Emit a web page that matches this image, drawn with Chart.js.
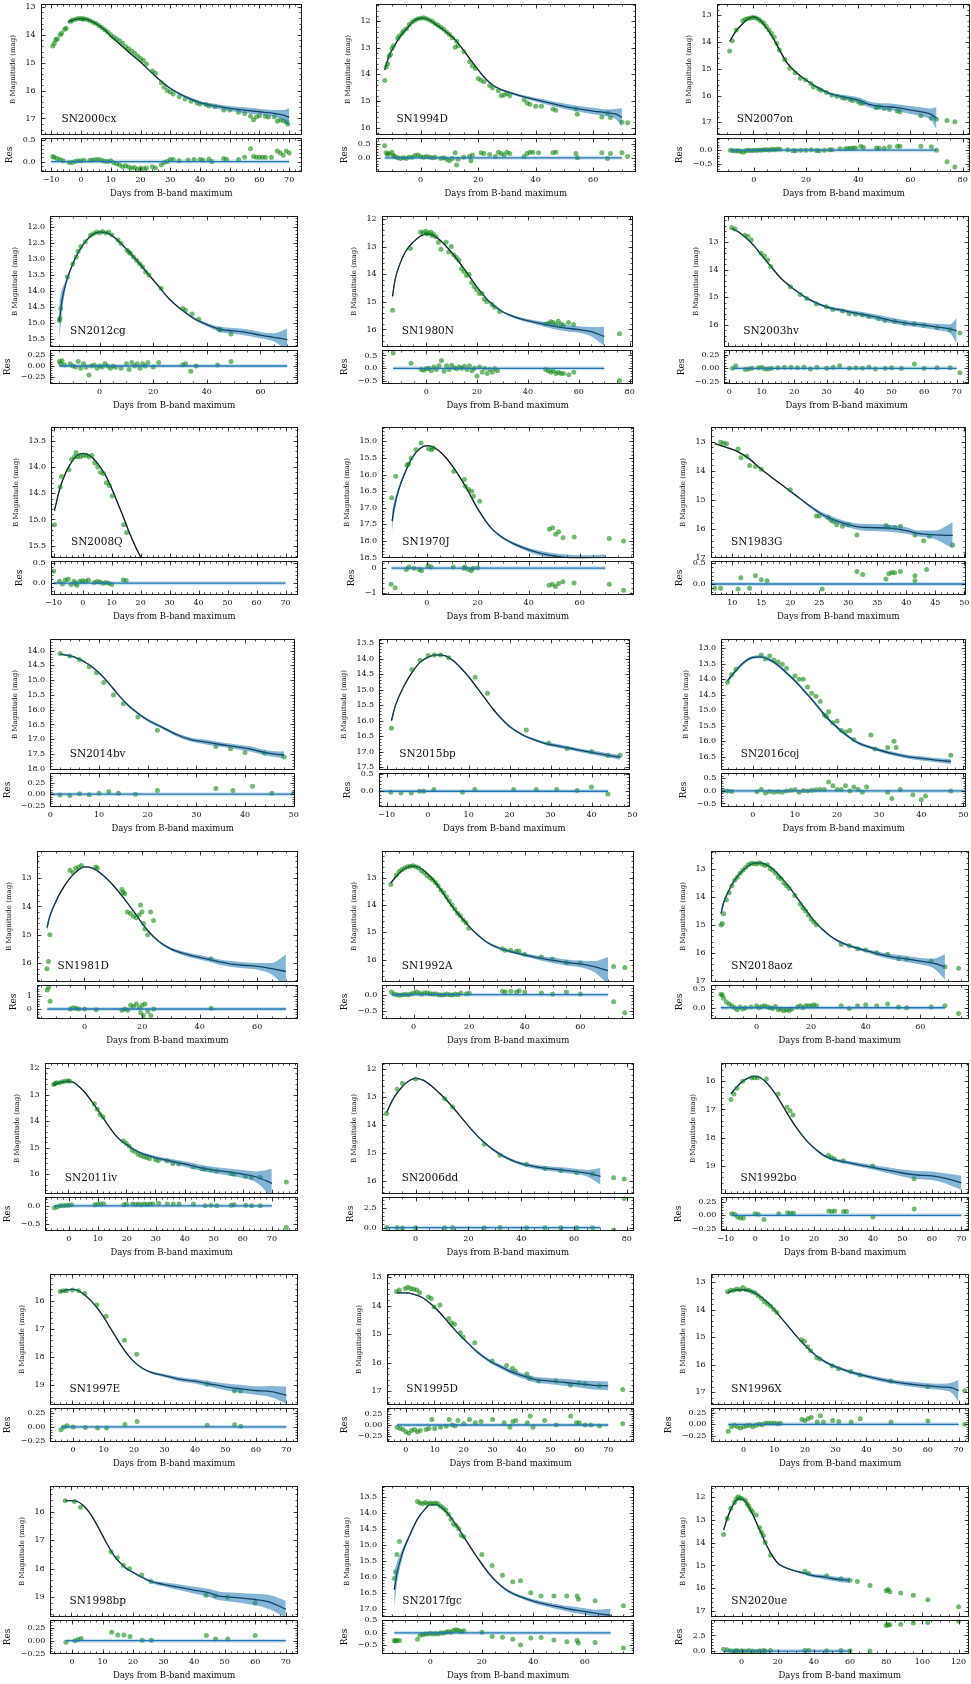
<!DOCTYPE html>
<html>
<head>
<meta charset="utf-8">
<script src="https://cdn.jsdelivr.net/npm/chart.js@4.4.1/dist/chart.umd.min.js"></script>
<style>
body{margin:0;background:#fff;width:971px;height:1684px;position:relative;overflow:hidden}
canvas{position:absolute}
</style>
</head>
<body>
<script>
// ---- data: [day, mag] observations, [day, residual], model curve [day, mag] + half width of band
const obs2000cx = [[-9.5,14.4],[-9,14.3],[-8.5,14.18],[-8,14.15],[-7,14.0],[-6.5,13.95],[-5.5,13.8],[-5,13.77],[-3.5,13.52],[-3,13.48],[-2,13.45],[-1,13.42],[0,13.42],[0.5,13.44],[1,13.43],[2,13.45],[3,13.5],[4,13.55],[5,13.6],[6,13.67],[7,13.74],[8,13.82],[9,13.9],[10,14.0],[11,14.08],[12,14.15],[13,14.22],[14,14.3],[15,14.42],[16,14.5],[17,14.58],[18,14.66],[19,14.76],[20,14.85],[21,14.92],[22,15.05],[24,15.3],[25,15.38],[27,15.72],[28,15.88],[29,16.0],[30,16.05],[31,16.12],[33,16.22],[35,16.3],[37,16.38],[39,16.45],[40,16.48],[42,16.5],[43,16.55],[45,16.58],[48,16.7],[50,16.7],[53,16.78],[55,16.82],[57,16.92],[58,17.05],[59,16.95],[60,16.9],[62,16.92],[63,16.95],[65,16.95],[66,17.1],[67,17.05],[68,17.08],[69,17.12],[69.5,17.2]];
const res2000cx = [[-9.5,0.12],[-9,0.1],[-8,0.07],[-7,0.05],[-6,0.02],[-4,-0.02],[-3,-0.02],[-2,0],[-1,0.02],[0,0.02],[1,0.03],[3,0.03],[4,0.04],[5,0.05],[6,0.05],[7,0.03],[8,0.01],[9,0],[10,0.02],[11,-0.03],[12,-0.05],[13,-0.08],[14,-0.12],[15,-0.1],[16,-0.13],[17,-0.15],[18,-0.14],[19,-0.18],[20,-0.15],[21,-0.17],[22,-0.15],[24,-0.12],[25,-0.15],[27,-0.08],[28,-0.02],[29,0],[30,0.05],[31,0.05],[33,0.02],[36,0.04],[38,0.05],[40,0.05],[41,0.04],[43,0.06],[44,0],[48,0.07],[49,0.05],[53,0.05],[55,0.1],[57,0.3],[58,0.12],[59,0.1],[60,0.1],[61,0.1],[62,0.1],[64,0.1],[66,0.25],[67,0.2],[68,0.15],[69,0.25],[70,0.2]];
const mod2000cx = [[-4.4,13.55],[-2,13.45],[0,13.42],[2,13.45],[5,13.6],[8,13.83],[10,14.05],[13,14.33],[16,14.62],[20,14.98],[25,15.48],[30,15.92],[35,16.22],[40,16.43],[45,16.55],[50,16.64],[55,16.7],[60,16.76],[65,16.82],[68,16.88],[70,16.96]];
const bw2000cx = [.01,.01,.01,.01,.01,.01,.01,.01,.01,.02,.02,.03,.05,.06,.08,.09,.1,.11,.12,.18,.33];
const span2000cx = [-10, 70];
const xt2000cx = ['−10','0','10','20','30','40','50','60','70'];
const yt2000cx = ['13','14','15','16','17'];
const rt2000cx = ['0.0','0.5'];

const obs1994D = [[-12.5,14.23],[-12,13.72],[-11.5,13.6],[-11,13.32],[-10.5,13.25],[-10,13.02],[-9.5,12.92],[-8,12.65],[-7.5,12.55],[-6.5,12.45],[-6,12.36],[-5,12.28],[-4,12.12],[-3,12.03],[-2,11.96],[-1,11.9],[0,11.88],[1,11.87],[2,11.9],[3,11.95],[4,12.0],[5,12.08],[6,12.15],[7,12.22],[8,12.3],[9,12.4],[10,12.5],[11,12.62],[12,12.98],[12.5,12.75],[13,12.92],[15,13.15],[17,13.52],[18,13.68],[19,13.78],[20,14.15],[21,14.22],[22,14.28],[24,14.42],[25,14.5],[27,14.62],[28,14.8],[29,14.78],[30,14.72],[31,14.8],[36,14.95],[37,15.08],[38,15.12],[40,15.2],[42,15.2],[46,15.3],[47,15.35],[54,15.3],[54.5,15.5],[63,15.6],[65,15.45],[66,15.62],[70,15.8],[72,15.82]];
const res1994D = [[-12.5,0.42],[-12,0.18],[-11.5,0.12],[-11,0.15],[-10,0.2],[-9.5,0.08],[-9,0.05],[-8,0],[-7,-0.02],[-6,0],[-5,-0.02],[-4,0.03],[-3,0.02],[-2,0.08],[-1,0.1],[0,0.05],[1,0.02],[2,0.05],[3,0.03],[4,0],[5,0.02],[7,-0.02],[8,0],[9,-0.05],[10,-0.1],[11,-0.02],[12,0.18],[12.5,-0.25],[13,-0.05],[15,0.02],[17,0.05],[17.5,-0.1],[18,0.1],[21,0.18],[22,0.15],[24,0.12],[26,0.05],[27,0.2],[28,0.15],[29,0.1],[30,0.2],[31,0.15],[36,0.05],[37,0.15],[38,0.2],[39,0.2],[41,0.18],[46,0.18],[47,0.2],[54,0.15],[54.5,0],[63,0.18],[65,-0.02],[66,0.15],[70,0.18],[72,0.05]];
const mod1994D = [[-12.5,13.83],[-11,13.3],[-9,12.9],[-7,12.55],[-5,12.3],[-3,12.05],[-1,11.9],[1,11.88],[3,11.95],[5,12.1],[7,12.25],[10,12.5],[12,12.7],[15,13.1],[18,13.55],[20,13.83],[22,14.1],[25,14.4],[28,14.57],[30,14.65],[35,14.82],[40,14.95],[45,15.08],[50,15.2],[55,15.3],[60,15.38],[65,15.45],[68,15.5],[70,15.62]];
const bw1994D = [.05,.03,.02,.02,.01,.01,.01,.01,.01,.01,.01,.01,.01,.01,.01,.01,.02,.02,.03,.04,.05,.07,.09,.1,.11,.12,.13,.2,.35];
const xt1994D = ['0','20','40','60'];
const yt1994D = ['12','13','14','15','16'];
const rt1994D = ['0.0','0.5'];

const obs2007on = [[-9,14.33],[-8,13.95],[-6.5,13.55],[-4,13.2],[-3,13.15],[-2,13.12],[-1,13.1],[0,13.08],[1,13.1],[2,13.15],[3,13.22],[4,13.3],[5,13.42],[6,13.55],[7,13.68],[8,13.82],[9,14.05],[10,14.3],[12,14.65],[14,14.98],[16,15.15],[18,15.35],[20,15.42],[22,15.55],[23,15.68],[25,15.75],[26,15.8],[28,15.88],[30,15.98],[32,16.02],[34,16.08],[35,16.1],[37,16.15],[38,16.18],[40,16.22],[41,16.3],[42,16.28],[47,16.45],[48,16.42],[50,16.48],[52,16.52],[55,16.58],[56,16.6],[64,16.75],[68,16.85],[70,16.88],[74,16.93],[77,16.98]];
const res2007on = [[-9,0],[-8,-0.02],[-7,-0.03],[-6,-0.02],[-5,-0.05],[-4,-0.08],[-3,-0.02],[-2,0],[-1,-0.02],[0,0],[1,-0.01],[2,0.01],[3,0],[4,0.02],[5,0.02],[6,0.01],[7,0.03],[8,0.02],[9,0.04],[10,0.03],[13,0.02],[15,-0.02],[16,-0.02],[18,0],[20,0],[22,0.02],[24,-0.01],[25,-0.02],[27,0],[29,0.02],[30,0.02],[33,0.05],[35,0.05],[36,0.06],[37,0.07],[38,0.08],[39,0.08],[41,0.15],[42,0.1],[47,0.08],[48,0.07],[50,0.07],[52,0.13],[55,0.15],[56,0.15],[64,0.15],[68,0.13],[70,0],[74,-0.43],[77,-0.63]];
const mod2007on = [[-9,13.98],[-7,13.65],[-5,13.41],[-2,13.14],[0,13.06],[3,13.22],[6,13.6],[8,13.92],[10,14.29],[13,14.79],[16,15.1],[20,15.41],[25,15.72],[30,15.95],[35,16.06],[40,16.16],[45,16.35],[50,16.41],[55,16.45],[60,16.54],[65,16.62],[68,16.7],[70,16.85]];
const bw2007on = [.02,.01,.01,.01,.01,.01,.01,.01,.01,.01,.01,.02,.03,.05,.08,.1,.11,.12,.13,.15,.17,.22,.42];
const xt2007on = ['0','20','40','60','80'];
const yt2007on = ['13','14','15','16','17'];
const rt2007on = ['−0.5','0.0'];

const obs2012cg = [[-15,14.92],[-14.8,14.85],[-14.5,14.55],[-12,13.55],[-10,13.15],[-8.7,12.93],[-8,12.75],[-7,12.6],[-5.3,12.45],[-3.4,12.25],[-2.3,12.2],[-1.1,12.15],[0,12.17],[1.1,12.13],[2.3,12.18],[3.4,12.15],[4.6,12.24],[6.9,12.4],[8,12.5],[10.3,12.72],[11,12.78],[11.5,12.82],[12.6,12.93],[13.8,13.03],[15,13.14],[16,13.24],[17.2,13.4],[18.4,13.5],[23,13.92],[31,14.55],[32,14.6],[34.5,14.72],[37,14.88],[44.5,15.2],[45,15.22],[49,15.35]];
const res2012cg = [[-15,0.1],[-14.5,0.05],[-14,0.12],[-13,0.02],[-11,0.05],[-10,0],[-9,-0.02],[-8,0.1],[-7,-0.05],[-6,0.05],[-5,-0.03],[-4,-0.2],[-3,0],[-2,0.02],[-1,-0.05],[0,0],[1,-0.02],[2,0.05],[3,0],[4,-0.05],[5,0],[6,-0.03],[8,-0.05],[10,0.05],[11,-0.08],[12,0.08],[13,0],[14,0.05],[15,-0.05],[16,0.05],[17,0],[18,0.08],[20,-0.02],[22,0.08],[31,0.03],[32,0.05],[34,-0.12],[36,0],[44,0.02],[49,0.1]];
const mod2012cg = [[-15,14.95],[-14,14.3],[-13,13.9],[-12,13.6],[-10,13.15],[-8,12.8],[-5,12.42],[-2,12.2],[0,12.15],[3,12.18],[6,12.35],[10,12.68],[14,13.05],[18,13.45],[22,13.85],[26,14.25],[30,14.55],[35,14.85],[40,15.05],[45,15.2],[50,15.25],[55,15.3],[60,15.38],[65,15.45],[70,15.52]];
const bw2012cg = [.65,.35,.15,.08,.04,.03,.02,.02,.02,.02,.02,.02,.02,.02,.02,.02,.02,.03,.05,.08,.09,.1,.1,.13,.35];
const xt2012cg = ['0','20','40','60'];
const yt2012cg = ['12.0','12.5','13.0','13.5','14.0','14.5','15.0','15.5'];
const rt2012cg = ['−0.25','0.00','0.25'];

const obs1980N = [[-13,15.3],[-6,13.07],[-2,12.48],[-1,12.5],[0,12.45],[0.5,12.55],[1,12.5],[2,12.48],[2.5,12.6],[3,12.55],[4,12.65],[5,12.85],[6,13.1],[8,12.85],[9,13.2],[10,13.0],[11,13.3],[12,13.4],[13,13.5],[14,13.8],[15,13.9],[16,14.05],[17,14.0],[18,14.3],[19,14.45],[20,14.55],[21,14.7],[22,14.7],[23,14.9],[24,15.0],[26,15.1],[27,15.2],[29,15.35],[47,15.8],[48,15.78],[49,15.72],[50,15.75],[51,15.82],[52,15.7],[53,15.8],[54,15.85],[56,15.75],[58,15.82],[76,16.15]];
const res1980N = [[-13,0.6],[-6,0.2],[-2,-0.05],[-1,-0.08],[0,-0.02],[1,0],[2,-0.1],[3,0.05],[4,-0.05],[5,0.1],[6,0.3],[7,-0.12],[8,0.1],[9,-0.05],[10,0.12],[11,0.02],[12,-0.02],[13,0.05],[14,0],[15,0.08],[16,-0.05],[17,0.1],[18,-0.1],[19,0],[20,-0.3],[21,0.05],[22,-0.15],[23,0],[24,-0.2],[25,-0.05],[26,-0.15],[27,-0.02],[28,-0.1],[47,-0.05],[48,-0.1],[49,-0.15],[50,-0.1],[51,-0.2],[52,-0.15],[53,-0.2],[54,-0.2],[56,-0.25],[58,-0.15],[76,-0.48]];
const mod1980N = [[-13,14.8],[-12,14.2],[-10,13.6],[-8,13.2],[-5,12.85],[-2,12.62],[0,12.55],[3,12.6],[6,12.8],[10,13.2],[15,13.8],[20,14.45],[25,15.0],[30,15.35],[35,15.55],[40,15.68],[45,15.78],[50,15.88],[55,15.95],[60,16.0],[65,16.08],[70,16.25]];
const bw1980N = [.15,.08,.04,.02,.01,.01,.01,.01,.01,.01,.01,.02,.03,.04,.05,.06,.08,.1,.11,.12,.17,.35];
const xt1980N = ['0','20','40','60','80'];
const yt1980N = ['12','13','14','15','16'];
const rt1980N = ['−0.5','0.0','0.5'];

const obs2003hv = [[1,12.47],[2,12.52],[5,12.75],[6,12.78],[7,12.92],[10,13.4],[11,13.5],[12,13.65],[13,13.88],[19,14.62],[22,14.9],[24,15.05],[27,15.25],[30,15.35],[32,15.45],[35,15.5],[37,15.6],[39,15.62],[41,15.65],[43,15.7],[46,15.78],[48,15.85],[51,15.88],[54,15.95],[57,15.98],[60,16.02],[64,16.1],[68,16.18],[71,16.3]];
const res2003hv = [[1,0],[2,0.05],[5,-0.02],[6,-0.01],[7,0],[9,0.01],[10,0.02],[11,-0.01],[12,-0.01],[13,0],[15,0.01],[17,0.02],[19,0.02],[21,0.01],[23,0.02],[25,-0.01],[27,0.02],[30,0],[32,0.02],[34,0.05],[37,0],[39,0.01],[41,0],[43,0.02],[45,-0.01],[48,0],[50,0.01],[53,0],[57,0.08],[60,0],[64,0.01],[68,0.01],[71,-0.08]];
const mod2003hv = [[1,12.5],[3,12.62],[5,12.8],[8,13.15],[10,13.45],[13,13.88],[16,14.3],[20,14.7],[25,15.1],[30,15.35],[35,15.48],[40,15.6],[45,15.72],[50,15.85],[55,15.95],[60,16.02],[65,16.1],[68,16.15],[70,16.22]];
const bw2003hv = [.02,.02,.02,.02,.02,.02,.02,.03,.04,.05,.06,.08,.1,.1,.1,.1,.12,.16,.45];
const xt2003hv = ['0','10','20','30','40','50','60','70'];
const yt2003hv = ['13','14','15','16'];
const rt2003hv = ['−0.25','0.00','0.25'];

const obs2008Q = [[-10,15.1],[-8,14.38],[-7.5,14.18],[-5,14.05],[-4,13.85],[-3,13.8],[-2.5,13.72],[-2,13.8],[-1,13.8],[0,13.78],[1,13.78],[2,13.8],[3,13.78],[4,13.92],[5,14.0],[6,14.1],[7,14.12],[8,14.3],[9,14.35],[10,14.55],[14,15.1],[15,15.25]];
const res2008Q = [[-10,0.3],[-8,0.05],[-7,-0.02],[-6,0.08],[-5,0.1],[-4,-0.03],[-3,0.05],[-2.5,0],[-2,-0.05],[-1,0.05],[0,0.06],[1,0.05],[2,0.08],[4,0.02],[5,0.04],[6,0.03],[7,0],[8,0.02],[9,0],[10,-0.03],[14,0.08],[15,0.07]];
const mod2008Q = [[-10,14.83],[-8,14.39],[-6,14.1],[-4,13.9],[-2,13.77],[0,13.74],[2,13.77],[4,13.87],[6,14.01],[8,14.19],[10,14.43],[12,14.7],[14,14.97],[16,15.26],[18,15.51],[20,15.74],[22,16.0]];
const bw2008Q = [.03,.02,.01,.01,.01,.01,.01,.01,.01,.01,.01,.01,.01,.01,.01,.01,.02];
const span2008Q = [-10, 70];
const xt2008Q = ['−10','0','10','20','30','40','50','60','70'];
const yt2008Q = ['13.5','14.0','14.5','15.0','15.5'];
const rt2008Q = ['0.0','0.5'];

const obs1970J = [[-14,16.7],[-12.4,16.05],[-8,15.72],[-7.3,15.68],[-6.3,15.5],[-4.4,15.25],[-2.4,15.05],[0.5,15.22],[1.7,15.25],[2.4,15.2],[10.4,15.9],[14.6,16.15],[15,16.35],[16.3,16.45],[17.5,16.5],[18.2,16.65],[20.6,16.8],[48,17.65],[49.3,17.6],[50.5,17.8],[51.7,17.72],[53.4,17.9],[57.8,17.88],[71.6,17.93],[77.2,18.0]];
const res1970J = [[-14,-0.65],[-12.4,-0.8],[-8,-0.05],[-7,0.05],[-5,0],[-3,-0.05],[-2,-0.1],[0.5,0.1],[1.7,0.05],[10.4,0.05],[14.6,0],[15,0.05],[16.3,-0.05],[17.5,-0.1],[18.2,0],[20,0.02],[48,-0.7],[49.3,-0.65],[50.5,-0.75],[51.7,-0.62],[53.4,-0.55],[57.8,-0.6],[71.6,-0.65],[77.2,-0.9]];
const mod1970J = [[-13.8,17.4],[-13,17.0],[-11,16.4],[-8.5,15.9],[-6,15.5],[-3,15.22],[0,15.13],[3,15.2],[6,15.38],[10,15.75],[15,16.35],[20,17.05],[25,17.6],[30,17.92],[35,18.12],[40,18.27],[45,18.38],[50,18.45],[55,18.5],[60,18.53],[65,18.55],[70,18.56]];
const bw1970J = [.3,.2,.08,.04,.02,.01,.01,.01,.01,.01,.01,.02,.03,.04,.05,.06,.07,.08,.09,.1,.12,.15];
const xt1970J = ['0','20','40','60'];
const yt1970J = ['15.0','15.5','16.0','16.5','17.0','17.5','18.0','18.5'];
const rt1970J = ['−1','0'];

const obs1983G = [[8,13.02],[8.5,13.05],[9,13.07],[11,13.25],[11.5,13.55],[12.5,13.5],[13,13.82],[14,13.85],[15,13.95],[20,14.65],[24.5,15.55],[25,15.55],[26.5,15.6],[27,15.7],[27.5,15.75],[28,15.85],[29,15.9],[30,15.85],[31.5,16.2],[36.5,15.88],[37,15.95],[38,15.95],[39,15.9],[41.5,16.2],[43,16.4],[44,16.25],[48,16.55]];
const res1983G = [[7,-0.1],[8,-0.1],[11,-0.12],[11.5,0.15],[13,-0.1],[14,0.2],[15,0.1],[16,0.08],[25.5,-0.12],[31.5,0.3],[32.5,0.23],[36.5,0.12],[37,0.25],[37.5,0.28],[38,0.27],[39,0.3],[41.5,0.08],[41.5,0.2],[43.5,0.35]];
const mod1983G = [[7,13.07],[9,13.2],[11,13.35],[13,13.6],[15,13.95],[18,14.4],[20,14.7],[22,15.0],[24,15.3],[26,15.55],[28,15.72],[30,15.85],[32,15.93],[34,15.95],[37,15.97],[40,16.05],[42,16.15],[45,16.2],[48,16.22]];
const bw1983G = [.01,.01,.01,.01,.01,.01,.02,.03,.05,.08,.09,.1,.11,.12,.12,.11,.1,.15,.45];
const span1983G = [6.3, 50.3];
const xt1983G = ['10','15','20','25','30','35','40','45','50'];
const yt1983G = ['13','14','15','16','17'];
const rt1983G = ['0.0','0.5'];

const obs2014bv = [[2,14.1],[4,14.18],[6,14.3],[8,14.55],[9.5,14.75],[11,15.08],[13,15.5],[15,15.8],[18,16.25],[22,16.7],[34,17.25],[37,17.32],[40,17.45],[44,17.47],[48,17.6]];
const res2014bv = [[2,-0.02],[4,-0.03],[6,0.01],[8,-0.01],[10,0.02],[12,0.05],[14,0.02],[17.5,0],[22,0.08],[34,0.12],[37.5,0.08],[41.5,0.17],[45.5,0.02],[50,0.03]];
const mod2014bv = [[2,14.12],[5,14.22],[8,14.48],[10,14.75],[12,15.1],[14,15.5],[16,15.85],[18,16.12],[20,16.35],[23,16.6],[26,16.85],[29,17.02],[32,17.1],[35,17.18],[38,17.25],[41,17.33],[44,17.45],[47,17.52],[48,17.53]];
const bw2014bv = [.03,.03,.03,.03,.03,.03,.04,.04,.05,.05,.06,.07,.08,.08,.08,.09,.09,.1,.12];
const span2014bv = [0, 50.3];
const xt2014bv = ['0','10','20','30','40','50'];
const yt2014bv = ['14.0','14.5','15.0','15.5','16.0','16.5','17.0','17.5','18.0'];
const rt2014bv = ['−0.25','0.00','0.25'];

const obs2015bp = [[-9,16.25],[-4,14.35],[-2,14.05],[0,13.9],[1.5,13.88],[3,13.88],[5,13.97],[11.5,14.6],[14.5,15.12],[24,16.3],[29.5,16.72],[34,16.9],[40,17.0],[44,17.12],[47,17.12]];
const res2015bp = [[-9,-0.03],[-6.5,-0.05],[-4,-0.05],[-2,0],[-1,0],[1.5,0.05],[8.5,-0.03],[11.5,0.05],[21,0.05],[26.5,0.05],[31.5,0.05],[36.5,0.02],[40,0.12],[44,-0.08]];
const mod2015bp = [[-9,16.0],[-8,15.5],[-6,14.9],[-4,14.45],[-2,14.12],[0,13.95],[2,13.88],[4,13.9],[6,14.05],[8,14.3],[10,14.6],[12,14.95],[14,15.3],[16,15.65],[18,15.95],[20,16.2],[23,16.45],[26,16.62],[29,16.75],[32,16.82],[35,16.9],[38,16.98],[41,17.05],[44,17.12],[47,17.18]];
const bw2015bp = [.08,.05,.03,.02,.02,.02,.02,.02,.02,.02,.02,.02,.02,.02,.03,.03,.03,.04,.05,.06,.06,.06,.07,.07,.08];
const span2015bp = [-12, 44];
const xt2015bp = ['−10','0','10','20','30','40','50'];
const yt2015bp = ['13.5','14.0','14.5','15.0','15.5','16.0','16.5','17.0','17.5'];
const rt2015bp = ['0.0','0.5'];

const obs2016coj = [[-6,14.1],[-5,13.85],[-4,13.68],[2,13.22],[3,13.35],[4,13.25],[5,13.38],[6,13.45],[7,13.52],[8,13.65],[10,13.9],[11,14.0],[12,14.0],[13,14.25],[14,14.45],[15,14.55],[16,14.72],[17,15.15],[17.5,15.2],[18,15.05],[19,15.4],[20,15.35],[21,15.65],[22,15.7],[23,15.65],[24,15.95],[28,15.8],[29,16.25],[32,16.2],[33.5,16.0],[34,16.2],[47,16.45]];
const res2016coj = [[-7,0.02],[-6,0],[-5,-0.02],[1,-0.03],[2,0.05],[3,-0.08],[4,-0.02],[5,-0.05],[6,-0.03],[7,-0.05],[8,0],[9,0.03],[10,0.05],[11,-0.05],[12,0.02],[13,0],[14,0.03],[15,0.04],[16,0.05],[17,0.05],[18,0.35],[19,0.2],[20,0.05],[21,0.05],[22,0.2],[23,0],[24,0.15],[25,0.05],[26,-0.05],[27,0.15],[32,-0.05],[33,-0.3],[35,0.05],[38,-0.15],[40,-0.35],[41,-0.2],[47,0]];
const mod2016coj = [[-6,14.05],[-4,13.72],[-2,13.45],[0,13.3],[2,13.28],[4,13.38],[6,13.55],[8,13.8],[10,14.05],[12,14.35],[14,14.65],[16,14.98],[18,15.3],[20,15.55],[22,15.78],[25,16.05],[28,16.2],[31,16.32],[34,16.42],[37,16.5],[40,16.55],[43,16.6],[47,16.65]];
const bw2016coj = [.06,.05,.05,.05,.05,.05,.05,.05,.05,.05,.05,.05,.05,.05,.05,.05,.05,.06,.06,.06,.07,.07,.08];
const span2016coj = [-7.5, 50.6];
const xt2016coj = ['0','10','20','30','40','50'];
const yt2016coj = ['13.0','13.5','14.0','14.5','15.0','15.5','16.0','16.5'];
const rt2016coj = ['−0.5','0.0','0.5'];

const obs1981D = [[-13,16.2],[-12.5,15.95],[-12,15.0],[-5,12.72],[-4,12.8],[-3,12.65],[-2,12.6],[-1,12.55],[4,12.6],[4.5,12.65],[13,13.4],[13.5,13.5],[14,13.55],[15,14.2],[16,14.25],[17,14.35],[18,14.4],[19,14.3],[19.5,13.95],[20,14.2],[20.5,14.6],[21,14.8],[22,15.0],[23,14.2],[24,14.5],[44,15.85]];
const res1981D = [[-13,1.5],[-12.5,1.7],[-12,0.6],[-5,0],[-4,0.1],[-3,0.05],[-2,0],[0,0],[4,-0.05],[13,-0.1],[14,0],[15,-0.1],[16,0.3],[17,0.2],[18,0.4],[19,0.1],[19.5,-0.3],[20,0.3],[20.5,-0.5],[21,0.4],[22,-0.2],[23,-0.5],[24,0],[44,0.05]];
const mod1981D = [[-13,14.75],[-12,14.35],[-10,13.85],[-8,13.45],[-5,13.0],[-2,12.7],[0,12.6],[3,12.65],[6,12.85],[10,13.25],[14,13.75],[18,14.3],[22,14.85],[26,15.25],[30,15.5],[35,15.68],[40,15.8],[45,15.92],[50,16.02],[55,16.08],[60,16.12],[65,16.2],[70,16.3]];
const bw1981D = [.15,.08,.04,.02,.02,.02,.02,.02,.02,.02,.02,.02,.03,.04,.05,.07,.08,.09,.1,.11,.12,.2,.6];
const xt1981D = ['0','20','40','60'];
const yt1981D = ['13','14','15','16'];
const rt1981D = ['0','1'];

const obs1992A = [[-8,13.25],[-6,12.9],[-5,12.78],[-4,12.7],[-3,12.65],[-2,12.6],[-1,12.58],[0,12.57],[1,12.6],[2,12.65],[3,12.75],[4,12.82],[5,12.92],[6,13.0],[7,13.08],[8,13.18],[9,13.3],[10,13.45],[11,13.55],[12,13.7],[13,13.85],[14,14.0],[15,14.15],[16,14.3],[17,14.4],[18,14.55],[19,14.65],[20,14.85],[32,15.6],[33,15.65],[35,15.65],[37,15.7],[38,15.68],[40,15.8],[46,15.9],[50,15.97],[55,16.1],[60,16.12],[72,16.25],[76,16.28]];
const res1992A = [[-8,0.08],[-7,0.02],[-6,0],[-5,-0.02],[-4,0],[-3,0.01],[-2,0],[-1,0.02],[0,0.05],[1,0.08],[2,0.05],[3,0.02],[4,0.06],[5,0.05],[6,0.03],[7,0.02],[8,0.03],[9,0],[10,-0.01],[11,0],[12,0.02],[13,0],[14,-0.01],[15,0.02],[16,0],[17,0.05],[19,0.03],[20,0.05],[32,0.1],[33,0.08],[35,0.1],[37,0.08],[38,0.12],[40,0.08],[46,0.05],[50,0.02],[55,0.08],[60,0.02],[72,-0.22],[76,-0.55]];
const mod1992A = [[-8,13.2],[-6,12.95],[-4,12.75],[-2,12.62],[0,12.58],[2,12.62],[4,12.75],[7,13.05],[10,13.45],[13,13.9],[16,14.3],[19,14.65],[22,14.98],[25,15.25],[28,15.45],[31,15.58],[35,15.7],[40,15.82],[45,15.93],[50,16.02],[55,16.1],[60,16.15],[65,16.25],[70,16.4]];
const bw1992A = [.02,.01,.01,.01,.01,.01,.01,.01,.01,.01,.01,.01,.02,.03,.04,.05,.05,.06,.08,.1,.11,.12,.2,.5];
const xt1992A = ['0','20','40','60'];
const yt1992A = ['13','14','15','16'];
const rt1992A = ['−0.5','0.0'];

const obs2018aoz = [[-13,15.0],[-12.5,14.95],[-12,14.6],[-11,14.1],[-10,13.85],[-9,13.6],[-8,13.4],[-7,13.3],[-6,13.15],[-5,13.05],[-4,12.95],[-3,12.85],[-2,12.8],[-1,12.8],[0,12.82],[1,12.78],[2,12.82],[3,12.88],[4,12.85],[5,12.98],[6,13.05],[7,13.15],[8,13.3],[9,13.35],[10,13.5],[11,13.6],[12,13.7],[14,13.95],[16,14.25],[17,14.4],[18,14.5],[19,14.65],[20,14.8],[21,14.9],[22,15.0],[31,15.7],[34,15.75],[37,15.85],[40,15.9],[44,16.0],[48,16.05],[52,16.2],[55,16.22],[64,16.3],[69,16.5],[74,16.55]];
const res2018aoz = [[-13,0.35],[-12.5,0.33],[-12,0.25],[-11,0.15],[-10,0.1],[-9,0.05],[-8,0],[-7,-0.05],[-6,0.02],[-5,-0.03],[-4,0],[-2,0.02],[0,0.05],[1,0],[2,0.03],[3,0.05],[4,0.02],[5,0],[6,-0.02],[7,0.03],[8,-0.05],[9,-0.03],[10,-0.08],[11,-0.05],[12,-0.07],[13,-0.03],[15,0.02],[16,0.05],[17,0],[18,0.05],[19,0.05],[20,0.05],[21,0.08],[22,0.05],[31,0.05],[34,-0.02],[37,0.05],[40,0.08],[44,0.05],[48,0.1],[52,0.02],[55,0],[64,0.02],[69,0.05],[74,-0.15]];
const mod2018aoz = [[-13,14.6],[-12,14.2],[-10,13.75],[-8,13.4],[-5,13.05],[-2,12.83],[0,12.78],[3,12.82],[6,13.0],[9,13.3],[12,13.65],[15,14.05],[18,14.45],[21,14.85],[24,15.15],[27,15.4],[30,15.58],[35,15.78],[40,15.92],[45,16.05],[50,16.15],[55,16.22],[60,16.3],[65,16.38],[69,16.5]];
const bw2018aoz = [.15,.08,.04,.03,.02,.02,.02,.02,.02,.02,.02,.02,.02,.02,.03,.03,.04,.05,.06,.08,.1,.11,.12,.18,.45];
const xt2018aoz = ['0','20','40','60'];
const yt2018aoz = ['13','14','15','16','17'];
const rt2018aoz = ['0.0','0.5'];

const obs2011iv = [[-5,12.62],[-4.5,12.58],[-4,12.55],[-3,12.55],[-2,12.52],[-1,12.5],[0,12.48],[0.5,12.5],[9,13.35],[10,13.55],[11,13.75],[12,13.85],[19,14.75],[20,14.85],[21,14.95],[22,15.1],[23,15.15],[24,15.25],[25,15.3],[26,15.35],[27,15.38],[28,15.42],[30,15.45],[31,15.5],[34,15.5],[36,15.6],[38,15.62],[43,15.72],[46,15.8],[47,15.82],[49,15.85],[51,15.88],[56,15.98],[57,16.0],[61,16.08],[63,16.12],[66,16.12],[75,16.3]];
const res2011iv = [[-5,-0.05],[-4,-0.03],[-3,0],[-2,0],[-1,0.02],[0,0.02],[1,0.03],[9,0.03],[10,0.05],[11,0.05],[12,0.06],[19,0.03],[20,0.05],[22,0.05],[23,0.04],[24,0.05],[25,0.03],[26,0.05],[27,0.04],[28,0.05],[29,0.05],[31,0.07],[34,0.05],[36,0.05],[38,0.05],[43,0.05],[47,0],[49,0.02],[51,0],[56,0.02],[57,0.03],[61,0.02],[63,0],[66,0],[75,-0.6]];
const mod2011iv = [[-5,12.65],[-3,12.55],[0,12.5],[2,12.55],[4,12.72],[6,12.95],[8,13.25],[10,13.55],[12,13.88],[14,14.2],[16,14.5],[18,14.72],[20,14.88],[23,15.1],[26,15.25],[30,15.38],[35,15.5],[40,15.62],[45,15.75],[50,15.85],[55,15.92],[60,16.0],[65,16.12],[70,16.35]];
const bw2011iv = [.02,.02,.02,.02,.02,.02,.02,.02,.02,.02,.02,.02,.03,.04,.05,.06,.08,.1,.11,.12,.13,.15,.22,.55];
const xt2011iv = ['0','10','20','30','40','50','60','70'];
const yt2011iv = ['12','13','14','15','16'];
const rt2011iv = ['−0.5','0.0'];

const obs2006dd = [[-11,13.58],[-7,12.72],[-5,12.5],[0,12.35],[11,13.05],[14,13.35],[26,14.68],[32,15.08],[42,15.4],[49,15.55],[55,15.62],[61,15.7],[67,15.75],[75,15.88],[79,15.93]];
const res2006dd = [[-11,0.02],[-7,-0.02],[-5,-0.03],[0,-0.02],[11,0],[14,0],[26,0],[32,0.02],[42,0],[49,0],[55,0],[61,0],[67,-0.02],[75,-0.3],[79,3.7]];
const mod2006dd = [[-11,13.55],[-9,13.15],[-7,12.85],[-5,12.62],[-3,12.45],[0,12.33],[3,12.4],[6,12.6],[10,12.95],[14,13.35],[18,13.8],[22,14.25],[26,14.62],[30,14.92],[35,15.2],[40,15.38],[45,15.48],[50,15.55],[55,15.6],[60,15.65],[65,15.72],[70,15.83]];
const bw2006dd = [.04,.03,.02,.02,.02,.02,.02,.02,.02,.02,.02,.03,.03,.04,.05,.06,.07,.08,.09,.1,.12,.3];
const xt2006dd = ['0','20','40','60','80'];
const yt2006dd = ['12','13','14','15','16'];
const rt2006dd = ['0.0','2.5'];

const obs1992bo = [[-8,16.65],[-7,16.45],[-6,16.25],[-4,16.0],[-1,15.88],[0,15.88],[1,15.88],[4,15.92],[8,16.45],[11,16.92],[12,17.05],[13,17.2],[25,18.62],[26,18.7],[27,18.75],[30,18.82],[40,19.0],[54,19.45]];
const res1992bo = [[-8,0.03],[-7,0.02],[-6,-0.03],[-5,-0.05],[-4,-0.05],[0,0.03],[1,0.02],[3,-0.08],[8,0.03],[11,0.05],[12,0.04],[13,0.04],[25,0.08],[26,0.07],[27,0.08],[30,0.07],[31,0.07],[40,-0.03],[54,0.12]];
const mod1992bo = [[-8,16.45],[-6,16.2],[-4,16.0],[-2,15.88],[0,15.83],[2,15.88],[4,16.05],[6,16.3],[8,16.6],[10,16.95],[12,17.3],[14,17.62],[16,17.9],[18,18.15],[20,18.35],[23,18.6],[26,18.75],[30,18.85],[35,18.95],[40,19.05],[45,19.15],[50,19.25],[55,19.32],[60,19.35],[65,19.45],[70,19.6]];
const bw1992bo = [.02,.02,.02,.02,.02,.02,.02,.02,.02,.02,.02,.02,.02,.02,.03,.04,.05,.06,.07,.08,.1,.12,.14,.15,.18,.25];
const xt1992bo = ['−10','0','10','20','30','40','50','60','70'];
const yt1992bo = ['16','17','18','19'];
const rt1992bo = ['−0.25','0.00','0.25'];

const obs1997E = [[-4,15.68],[-3,15.65],[-2,15.65],[0,15.62],[2,15.65],[4,15.75],[8,16.15],[11,16.55],[17,17.4],[21,17.9],[44,18.95],[53,19.2],[55,19.2]];
const res1997E = [[-4,-0.05],[-3,0],[-2,0.02],[0,0],[4,-0.01],[8,-0.02],[11,-0.02],[17,0.05],[21,0.1],[44,0.03],[53,0.04],[55,0.01]];
const mod1997E = [[-4,15.68],[-2,15.62],[0,15.6],[2,15.65],[4,15.8],[6,16.0],[8,16.25],[10,16.55],[12,16.9],[14,17.25],[16,17.6],[18,17.9],[20,18.15],[23,18.4],[26,18.55],[30,18.65],[35,18.78],[40,18.85],[45,18.95],[50,19.05],[55,19.12],[60,19.18],[65,19.22],[70,19.35]];
const bw1997E = [.02,.02,.02,.02,.02,.02,.02,.02,.02,.02,.02,.02,.02,.03,.04,.05,.07,.08,.1,.12,.14,.15,.2,.3];
const xt1997E = ['0','10','20','30','40','50','60','70'];
const yt1997E = ['16','17','18','19'];
const rt1997E = ['−0.25','0.00','0.25'];

const obs1995D = [[-3,13.5],[-2,13.45],[0,13.4],[1,13.35],[2,13.4],[3,13.42],[4,13.45],[5,13.55],[8,13.7],[9,13.75],[10,14.05],[12,13.98],[15,14.45],[16,14.6],[17,14.65],[19,14.95],[20,15.1],[24,15.3],[30,15.95],[35,16.1],[37,16.2],[38,16.3],[42,16.4],[43,16.55],[46,16.65],[52,16.65],[57,16.8],[60,16.72],[62,16.75],[67,16.82],[75,16.95]];
const res1995D = [[-3,-0.05],[-2,-0.08],[-1,-0.1],[0,-0.15],[1,-0.18],[2,-0.12],[3,-0.1],[4,-0.15],[5,-0.12],[7,-0.1],[8,-0.08],[9,0.12],[10,-0.08],[12,-0.05],[14,-0.03],[15,0.12],[16,0],[17,-0.02],[18,0.1],[20,0.03],[22,0.12],[24,0.05],[26,0.08],[30,0.12],[34,0.05],[36,-0.05],[37,0.08],[38,0.1],[42,0.05],[43,0.2],[44,-0.05],[48,0.1],[52,0],[57,0.2],[59,0.05],[60,0.05],[62,0],[64,0],[67,-0.02],[75,0.03]];
const mod1995D = [[-3,13.55],[0,13.55],[3,13.6],[6,13.72],[9,13.95],[12,14.25],[15,14.6],[18,14.95],[21,15.25],[24,15.55],[27,15.8],[30,16.0],[33,16.15],[36,16.3],[40,16.45],[45,16.6],[50,16.65],[55,16.7],[60,16.75],[65,16.8],[70,16.82]];
const bw1995D = [.02,.02,.02,.02,.02,.02,.02,.02,.03,.04,.05,.06,.07,.08,.09,.1,.11,.12,.13,.15,.15];
const xt1995D = ['0','10','20','30','40','50','60','70'];
const yt1995D = ['13','14','15','16','17'];
const rt1995D = ['−0.25','0.00','0.25'];

const obs1996X = [[-5,13.35],[-4,13.3],[-3,13.3],[-2,13.25],[-1,13.28],[0,13.2],[1,13.28],[2,13.3],[3,13.35],[4,13.4],[5,13.5],[6,13.6],[7,13.72],[8,13.8],[9,13.88],[10,14.0],[11,14.1],[19,15.1],[20,15.15],[21,15.35],[22,15.5],[24,15.75],[25,15.8],[29,16.05],[31,16.15],[35,16.25],[38,16.38],[48,16.6],[60,16.8],[72,16.95]];
const res1996X = [[-5,-0.15],[-4,-0.05],[-3,-0.02],[-2,-0.05],[-1,-0.08],[0,-0.05],[1,-0.03],[2,-0.02],[3,-0.05],[4,-0.02],[5,0],[6,-0.01],[7,0.02],[8,0.03],[9,0.02],[10,0.03],[11,0.01],[12,0.02],[19,0.1],[20,0.08],[21,0.12],[22,0.15],[24,0.05],[25,0.18],[26,0.05],[29,0.08],[31,0.06],[35,0.05],[38,0.12],[48,0.05],[60,0.07],[72,0]];
const mod1996X = [[-5,13.4],[-3,13.3],[0,13.28],[3,13.35],[6,13.55],[9,13.85],[12,14.25],[15,14.65],[18,15.05],[21,15.4],[24,15.7],[27,15.92],[30,16.08],[35,16.28],[40,16.42],[45,16.55],[50,16.65],[55,16.72],[60,16.78],[65,16.82],[68,16.85],[70,16.95]];
const bw1996X = [.02,.02,.02,.02,.02,.02,.02,.02,.02,.03,.04,.05,.05,.06,.07,.08,.08,.09,.1,.12,.2,.4];
const xt1996X = ['0','10','20','30','40','50','60','70'];
const yt1996X = ['13','14','15','16','17'];
const rt1996X = ['−0.25','0.00','0.25'];

const obs1998bp = [[-2,15.62],[1,15.65],[3,15.85],[13,17.42],[15,17.62],[17,17.88],[19,18.0],[23,18.22],[26,18.45],[44,18.93],[47,18.95],[51,19.0],[60,19.2]];
const res1998bp = [[-2,-0.03],[1,0],[2,0.02],[3,0.04],[13,0.16],[15,0.11],[17,0.11],[19,0.08],[23,0.01],[26,0.01],[44,0.1],[47,0.03],[51,0.03],[60,0.1]];
const mod1998bp = [[-2,15.62],[0,15.62],[2,15.65],[4,15.8],[6,16.05],[8,16.4],[10,16.8],[12,17.2],[14,17.55],[16,17.8],[18,18.0],[20,18.12],[23,18.3],[26,18.45],[30,18.55],[35,18.65],[40,18.75],[45,18.85],[48,18.95],[50,18.98],[55,19.02],[60,19.08],[65,19.18],[70,19.42]];
const bw1998bp = [.02,.02,.02,.02,.02,.02,.02,.02,.02,.02,.03,.03,.04,.05,.07,.1,.12,.14,.15,.15,.17,.2,.25,.3];
const xt1998bp = ['0','10','20','30','40','50','60','70'];
const yt1998bp = ['16','17','18','19'];
const rt1998bp = ['−0.25','0.00','0.25'];

const obs2017fgc = [[-14,16.05],[-13.5,15.85],[-13,15.3],[-12,14.9],[-5,13.65],[-4,13.7],[-3,13.72],[-2,13.68],[-1,13.72],[0,13.7],[1,13.72],[2,13.7],[3,13.72],[4,13.8],[5,13.85],[6,13.92],[7,14.05],[8,14.2],[9,14.35],[10,14.4],[11,14.5],[12,14.7],[13,14.75],[20,15.3],[24,15.65],[28,15.95],[32,16.15],[35,16.12],[39,16.5],[43,16.6],[48,16.6],[53,16.6],[57,16.6],[57.5,16.7],[64,16.75],[75,16.9]];
const res2017fgc = [[-14,-0.3],[-13.5,-0.32],[-13,-0.3],[-12,-0.3],[-5,-0.25],[-4,-0.1],[-3,-0.08],[-2,-0.05],[-1,-0.05],[0,-0.02],[1,-0.05],[2,-0.03],[3,-0.05],[4,0],[5,-0.02],[6,0.02],[7,0.05],[8,0.02],[9,0.1],[10,0.12],[11,0.1],[12,0.05],[13,0.08],[20,0.02],[24,-0.15],[28,-0.17],[32,-0.25],[35,-0.48],[39,-0.2],[43,-0.18],[48,-0.28],[53,-0.35],[57,-0.3],[57.5,-0.4],[64,-0.38],[75,-0.6]];
const mod2017fgc = [[-14,16.4],[-13,15.9],[-11,15.3],[-8,14.7],[-5,14.2],[-2,13.88],[0,13.75],[2,13.75],[5,13.88],[8,14.15],[11,14.5],[14,14.88],[17,15.25],[20,15.6],[23,15.92],[26,16.18],[29,16.38],[32,16.52],[36,16.65],[40,16.76],[45,16.86],[50,16.94],[55,17.02],[60,17.08],[65,17.15],[70,17.2]];
const bw2017fgc = [.6,.35,.15,.06,.03,.02,.02,.02,.02,.02,.02,.02,.02,.02,.03,.03,.04,.05,.05,.06,.07,.08,.09,.1,.12,.2];
const xt2017fgc = ['0','20','40','60'];
const yt2017fgc = ['13.5','14.0','14.5','15.0','15.5','16.0','16.5','17.0'];
const rt2017fgc = ['−0.5','0.0','0.5'];

const obs2020ue = [[-10,13.65],[-8,12.95],[-6,12.5],[-4,12.25],[-3,12.1],[-2,12.0],[-1,12.05],[0,12.08],[2,12.15],[3,12.3],[4,12.4],[5,12.55],[6,12.65],[8,12.8],[10,13.35],[11,13.55],[12,13.7],[13,14.0],[16,14.55],[35,15.25],[37,15.35],[47,15.45],[55,15.58],[60,15.65],[64,15.7],[71,15.88],[80,16.1],[81,16.05],[82,16.15],[88,16.2],[95,16.3],[103,16.5],[120,16.8]];
const res2020ue = [[-10,0.3],[-8,0.2],[-6,0.05],[-4,0],[-3,0.05],[-2,0],[0,0.05],[2,0],[4,0.1],[6,0],[8,-0.05],[10,0.05],[12,0.1],[13,0],[16,0.1],[35,0.1],[37,0.12],[47,0.05],[55,0.1],[60,0.05],[71,0],[80,4.1],[81,4.2],[82,4.2],[88,4.3],[95,4.5],[103,4.55],[120,4.8]];
const mod2020ue = [[-10,13.45],[-8,12.95],[-6,12.55],[-4,12.25],[-2,12.1],[0,12.08],[2,12.2],[4,12.45],[6,12.75],[8,13.1],[10,13.45],[12,13.8],[14,14.15],[16,14.45],[18,14.7],[20,14.9],[23,15.05],[26,15.15],[30,15.25],[35,15.35],[40,15.45],[45,15.5],[50,15.57],[55,15.62],[60,15.65]];
const bw2020ue = [.05,.03,.02,.02,.02,.02,.02,.02,.02,.02,.02,.02,.02,.02,.02,.02,.03,.03,.04,.06,.08,.09,.1,.11,.12];
const xt2020ue = ['0','20','40','60','80','100','120'];
const yt2020ue = ['12','13','14','15','16','17'];
const rt2020ue = ['0.0','2.5'];

// ---- panels (axis ranges) and layout
const panels = [
  {name:'SN2000cx', obs:obs2000cx, res:res2000cx, mod:mod2000cx, bw:bw2000cx, span:span2000cx, xt:xt2000cx, yt:yt2000cx, rt:rt2000cx, xr:[-13.6,74.3], yr:[12.89,17.6], rr:[-0.25,0.56]},
  {name:'SN1994D', obs:obs1994D, res:res1994D, mod:mod1994D, bw:bw1994D, xt:xt1994D, yt:yt1994D, rt:rt1994D, xr:[-15.7,74.9], yr:[11.34,16.29], rr:[-0.5,0.7]},
  {name:'SN2007on', obs:obs2007on, res:res2007on, mod:mod2007on, bw:bw2007on, xt:xt2007on, yt:yt2007on, rt:rt2007on, xr:[-14,82.8], yr:[12.57,17.48], rr:[-0.82,0.46]},
  {name:'SN2012cg', obs:obs2012cg, res:res2012cg, mod:mod2012cg, bw:bw2012cg, xt:xt2012cg, yt:yt2012cg, rt:rt2012cg, xr:[-18.4,74], yr:[11.64,15.76], rr:[-0.41,0.365]},
  {name:'SN1980N', obs:obs1980N, res:res1980N, mod:mod1980N, bw:bw1980N, xt:xt1980N, yt:yt1980N, rt:rt1980N, xr:[-17.3,81.3], yr:[11.89,16.64], rr:[-0.62,0.72]},
  {name:'SN2003hv', obs:obs2003hv, res:res2003hv, mod:mod2003hv, bw:bw2003hv, xt:xt2003hv, yt:yt2003hv, rt:rt2003hv, xr:[-1.5,73.8], yr:[12.04,16.82], rr:[-0.29,0.34]},
  {name:'SN2008Q', obs:obs2008Q, res:res2008Q, mod:mod2008Q, bw:bw2008Q, span:span2008Q, xt:xt2008Q, yt:yt2008Q, rt:rt2008Q, xr:[-11.1,74.3], yr:[13.23,15.74], rr:[-0.3,0.56]},
  {name:'SN1970J', obs:obs1970J, res:res1970J, mod:mod1970J, bw:bw1970J, xt:xt1970J, yt:yt1970J, rt:rt1970J, xr:[-17.7,81.3], yr:[14.56,18.52], rr:[-1.1,0.3]},
  {name:'SN1983G', obs:obs1983G, res:res1983G, mod:mod1983G, bw:bw1983G, span:span1983G, xt:xt1983G, yt:yt1983G, rt:rt1983G, xr:[6.26,50.3], yr:[12.49,17.0], rr:[-0.27,0.56]},
  {name:'SN2014bv', obs:obs2014bv, res:res2014bv, mod:mod2014bv, bw:bw2014bv, span:span2014bv, xt:xt2014bv, yt:yt2014bv, rt:rt2014bv, xr:[0,50.25], yr:[13.6,18.05], rr:[-0.28,0.46]},
  {name:'SN2015bp', obs:obs2015bp, res:res2015bp, mod:mod2015bp, bw:bw2015bp, span:span2015bp, xt:xt2015bp, yt:yt2015bp, rt:rt2015bp, xr:[-12,49.4], yr:[13.36,17.6], rr:[-0.45,0.52]},
  {name:'SN2016coj', obs:obs2016coj, res:res2016coj, mod:mod2016coj, bw:bw2016coj, span:span2016coj, xt:xt2016coj, yt:yt2016coj, rt:rt2016coj, xr:[-7.5,50.6], yr:[12.7,16.93], rr:[-0.65,0.72]},
  {name:'SN1981D', obs:obs1981D, res:res1981D, mod:mod1981D, bw:bw1981D, xt:xt1981D, yt:yt1981D, rt:rt1981D, xr:[-16.6,74.2], yr:[12.03,16.68], rr:[-0.8,1.9]},
  {name:'SN1992A', obs:obs1992A, res:res1992A, mod:mod1992A, bw:bw1992A, xt:xt1992A, yt:yt1992A, rt:rt1992A, xr:[-11.3,79.3], yr:[12.02,16.82], rr:[-0.75,0.3]},
  {name:'SN2018aoz', obs:obs2018aoz, res:res2018aoz, mod:mod2018aoz, bw:bw2018aoz, xt:xt2018aoz, yt:yt2018aoz, rt:rt2018aoz, xr:[-16.8,77.8], yr:[12.35,17.05], rr:[-0.3,0.6]},
  {name:'SN2011iv', obs:obs2011iv, res:res2011iv, mod:mod2011iv, bw:bw2011iv, xt:xt2011iv, yt:yt2011iv, rt:rt2011iv, xr:[-8.1,79.0], yr:[11.8,16.76], rr:[-0.7,0.25]},
  {name:'SN2006dd', obs:obs2006dd, res:res2006dd, mod:mod2006dd, bw:bw2006dd, xt:xt2006dd, yt:yt2006dd, rt:rt2006dd, xr:[-12.9,82.7], yr:[11.77,16.47], rr:[-0.45,3.9]},
  {name:'SN1992bo', obs:obs1992bo, res:res1992bo, mod:mod1992bo, bw:bw1992bo, xt:xt1992bo, yt:yt1992bo, rt:rt1992bo, xr:[-11.5,72.6], yr:[15.35,20.0], rr:[-0.3,0.35]},
  {name:'SN1997E', obs:obs1997E, res:res1997E, mod:mod1997E, bw:bw1997E, xt:xt1997E, yt:yt1997E, rt:rt1997E, xr:[-7.5,73.8], yr:[15.05,19.7], rr:[-0.28,0.35]},
  {name:'SN1995D', obs:obs1995D, res:res1995D, mod:mod1995D, bw:bw1995D, xt:xt1995D, yt:yt1995D, rt:rt1995D, xr:[-6.4,78.9], yr:[12.88,17.5], rr:[-0.38,0.38]},
  {name:'SN1996X', obs:obs1996X, res:res1996X, mod:mod1996X, bw:bw1996X, xt:xt1996X, yt:yt1996X, rt:rt1996X, xr:[-10.5,73.4], yr:[12.7,17.48], rr:[-0.38,0.35]},
  {name:'SN1998bp', obs:obs1998bp, res:res1998bp, mod:mod1998bp, bw:bw1998bp, xt:xt1998bp, yt:yt1998bp, rt:rt1998bp, xr:[-7.1,74.0], yr:[15.1,19.7], rr:[-0.26,0.4]},
  {name:'SN2017fgc', obs:obs2017fgc, res:res2017fgc, mod:mod2017fgc, bw:bw2017fgc, xt:xt2017fgc, yt:yt2017fgc, rt:rt2017fgc, xr:[-18.7,79.1], yr:[13.16,17.26], rr:[-0.85,0.52]},
  {name:'SN2020ue', obs:obs2020ue, res:res2020ue, mod:mod2020ue, bw:bw2020ue, xt:xt2020ue, yt:yt2020ue, rt:rt2020ue, xr:[-17.2,125.8], yr:[11.52,17.26], rr:[-0.5,5.0]}
];

// left/right edge of each axes box, per row
const cols = [
  [[41,302],[376,636],[717,970]],
  [[50,298],[382,633],[724,969]],
  [[51,298],[382,634],[711,966]],
  [[50,295],[379,630],[721,966]],
  [[37,298],[382,634],[711,969]],
  [[45,298],[382,634],[721,969]],
  [[50,298],[387,634],[711,969]],
  [[50,298],[382,634],[711,969]]
];

Chart.defaults.font.family = "'DejaVu Serif', serif";
Chart.defaults.color = '#111';
const GREEN = 'rgba(0,128,0,0.55)';
const BAND = 'rgba(31,119,180,0.55)';
const RBAND = 'rgba(31,119,180,0.22)';
const BLUE = '#1f77b4';
const num = s => parseFloat(s.replace('−', '-'));

function minorVals(vals, lo, hi) {
  const st = vals[1] - vals[0];
  const m = st / Math.pow(10, Math.floor(Math.log10(st) + 1e-9));
  const nd = [1, 2.5, 5, 10].some(k => Math.abs(m - k) < 1e-6) ? 5 : 4;
  const ms = st / nd, out = [];
  for (let v = vals[0] - Math.floor((vals[0] - lo) / ms + 1e-9) * ms; v <= hi + 1e-9; v += ms) out.push(v);
  return out;
}

// inward ticks on all four sides, box frame, SN label
function framePlugin(xv, yv, xr, yr, label) {
  const xm = minorVals(xv, xr[0], xr[1]), ym = minorVals(yv, Math.min(...yr), Math.max(...yr));
  return {
    id: 'frame',
    afterDraw(chart) {
      const {ctx, chartArea: a} = chart;
      const xs = chart.scales.x, ys = chart.scales.y;
      const L = Math.round(a.left) + 0.5, R = Math.round(a.right) - 0.5;
      const T = Math.round(a.top) + 0.5, B = Math.round(a.bottom) - 0.5;
      ctx.save();
      ctx.strokeStyle = '#1a1a1a';
      ctx.lineWidth = 0.8;
      ctx.beginPath();
      const xt = (list, len) => list.forEach(v => {
        const p = Math.round(xs.getPixelForValue(v)) + 0.5;
        if (p < L - 0.1 || p > R + 0.1) return;
        ctx.moveTo(p, B); ctx.lineTo(p, B - len);
        ctx.moveTo(p, T); ctx.lineTo(p, T + len);
      });
      const yt = (list, len) => list.forEach(v => {
        const p = Math.round(ys.getPixelForValue(v)) + 0.5;
        if (p < T - 0.1 || p > B + 0.1) return;
        ctx.moveTo(L, p); ctx.lineTo(L + len, p);
        ctx.moveTo(R, p); ctx.lineTo(R - len, p);
      });
      xt(xv, 4); xt(xm, 2); yt(yv, 4); yt(ym, 2);
      ctx.stroke();
      ctx.lineWidth = 1;
      ctx.strokeRect(L, T, R - L, B - T);
      if (label) {
        ctx.fillStyle = '#111';
        ctx.font = "10.5px 'DejaVu Serif', serif";
        ctx.textBaseline = 'middle';
        ctx.fillText(label, a.left + 0.08 * (a.right - a.left), a.bottom - 0.12 * (a.bottom - a.top));
      }
      ctx.restore();
    }
  };
}

function axis(vals, labels, lo, hi, extra) {
  return Object.assign({
    type: 'linear', min: lo, max: hi,
    grid: {display: false, drawTicks: false},
    border: {display: false},
    afterBuildTicks: s => { s.ticks = vals.map(v => ({value: v})); }
  }, extra(labels));
}

function curve(pts, f) {
  return pts.map((q, i) => ({x: q[0], y: f(q, i)}));
}

function mainCfg(p) {
  const xv = p.xt.map(num), yv = p.yt.map(num);
  return {
    type: 'line',
    data: {datasets: [
      {data: curve(p.mod, (q, i) => q[1] - p.bw[i]), borderWidth: 0, borderColor: 'rgba(0,0,0,0)', pointRadius: 0, fill: false, cubicInterpolationMode: 'monotone'},
      {data: curve(p.mod, (q, i) => q[1] + p.bw[i]), borderWidth: 0, borderColor: 'rgba(0,0,0,0)', pointRadius: 0, fill: '-1', backgroundColor: BAND, cubicInterpolationMode: 'monotone'},
      {data: curve(p.obs, q => q[1]), showLine: false, pointRadius: 2.5, pointBackgroundColor: GREEN, pointBorderWidth: 0},
      {data: curve(p.mod, q => q[1]), borderColor: '#000', borderWidth: 1.3, pointRadius: 0, fill: false, cubicInterpolationMode: 'monotone'}
    ]},
    options: {
      responsive: false, maintainAspectRatio: false, animation: false, events: [],
      layout: {padding: {top: 7, right: 14, bottom: 7, left: 2}},
      plugins: {legend: {display: false}, tooltip: {enabled: false}},
      scales: {
        x: axis(xv, p.xt, p.xr[0], p.xr[1], () => ({ticks: {display: false}})),
        y: axis(yv, p.yt, p.yr[0], p.yr[1], lb => ({
          reverse: true,
          ticks: {font: {size: 8}, padding: 5, autoSkip: false, callback: (v, i) => lb[i]},
          title: {display: true, text: 'B Magnitude (mag)', font: {size: 7}, padding: {top: 0, bottom: 3}}
        }))
      }
    },
    plugins: [framePlugin(xv, yv, p.xr, p.yr, p.name)]
  };
}

function resCfg(p) {
  const xv = p.xt.map(num), rv = p.rt.map(num);
  const sp = p.span || [p.mod[0][0], p.mod[p.mod.length - 1][0]];
  const zero = [{x: sp[0], y: 0}, {x: sp[1], y: 0}];
  return {
    type: 'line',
    data: {datasets: [
      {data: zero, borderColor: RBAND, borderWidth: 4, pointRadius: 0, fill: false},
      {data: zero, borderColor: BLUE, borderWidth: 1.3, pointRadius: 0, fill: false},
      {data: curve(p.res, q => q[1]), showLine: false, pointRadius: 2.5, pointBackgroundColor: GREEN, pointBorderWidth: 0}
    ]},
    options: {
      responsive: false, maintainAspectRatio: false, animation: false, events: [],
      layout: {padding: {top: 7, right: 14, bottom: 2, left: 2}},
      plugins: {legend: {display: false}, tooltip: {enabled: false}},
      scales: {
        x: axis(xv, p.xt, p.xr[0], p.xr[1], lb => ({
          ticks: {font: {size: 8}, padding: 3, autoSkip: false, maxRotation: 0, callback: (v, i) => lb[i]},
          title: {display: true, text: 'Days from B-band maximum', font: {size: 8.5}, padding: {top: 1, bottom: 0}}
        })),
        y: axis(rv, p.rt, p.rr[0], p.rr[1], lb => ({
          ticks: {font: {size: 8}, padding: 5, autoSkip: false, callback: (v, i) => lb[i]},
          title: {display: true, text: 'Res', font: {size: 9}, padding: {top: 0, bottom: 3}}
        }))
      }
    },
    plugins: [framePlugin(xv, rv, p.xr, p.rr, null)]
  };
}

// place a chart so that its plot area lands exactly on the given box
function place(box, cfgFn) {
  const cv = document.createElement('canvas');
  document.body.appendChild(cv);
  cv.width = box.w + 80; cv.height = box.h + 50;
  let ch = new Chart(cv, cfgFn());
  let a = ch.chartArea;
  const W = Math.round(cv.width + box.w - (a.right - a.left));
  const H = Math.round(cv.height + box.h - (a.bottom - a.top));
  ch.destroy();
  cv.width = W; cv.height = H;
  cv.style.width = W + 'px'; cv.style.height = H + 'px';
  ch = new Chart(cv, cfgFn());
  a = ch.chartArea;
  cv.style.left = Math.round(box.x - a.left) + 'px';
  cv.style.top = Math.round(box.y - a.top) + 'px';
}

panels.forEach((p, k) => {
  const row = Math.floor(k / 3), col = k % 3;
  const [l, r] = cols[row][col];
  const top = Math.round(4 + 211.7 * row);
  place({x: l, y: top, w: r - l, h: 131}, () => mainCfg(p));
  place({x: l, y: top + 134, w: r - l, h: 34}, () => resCfg(p));
});
</script>
</body>
</html>
